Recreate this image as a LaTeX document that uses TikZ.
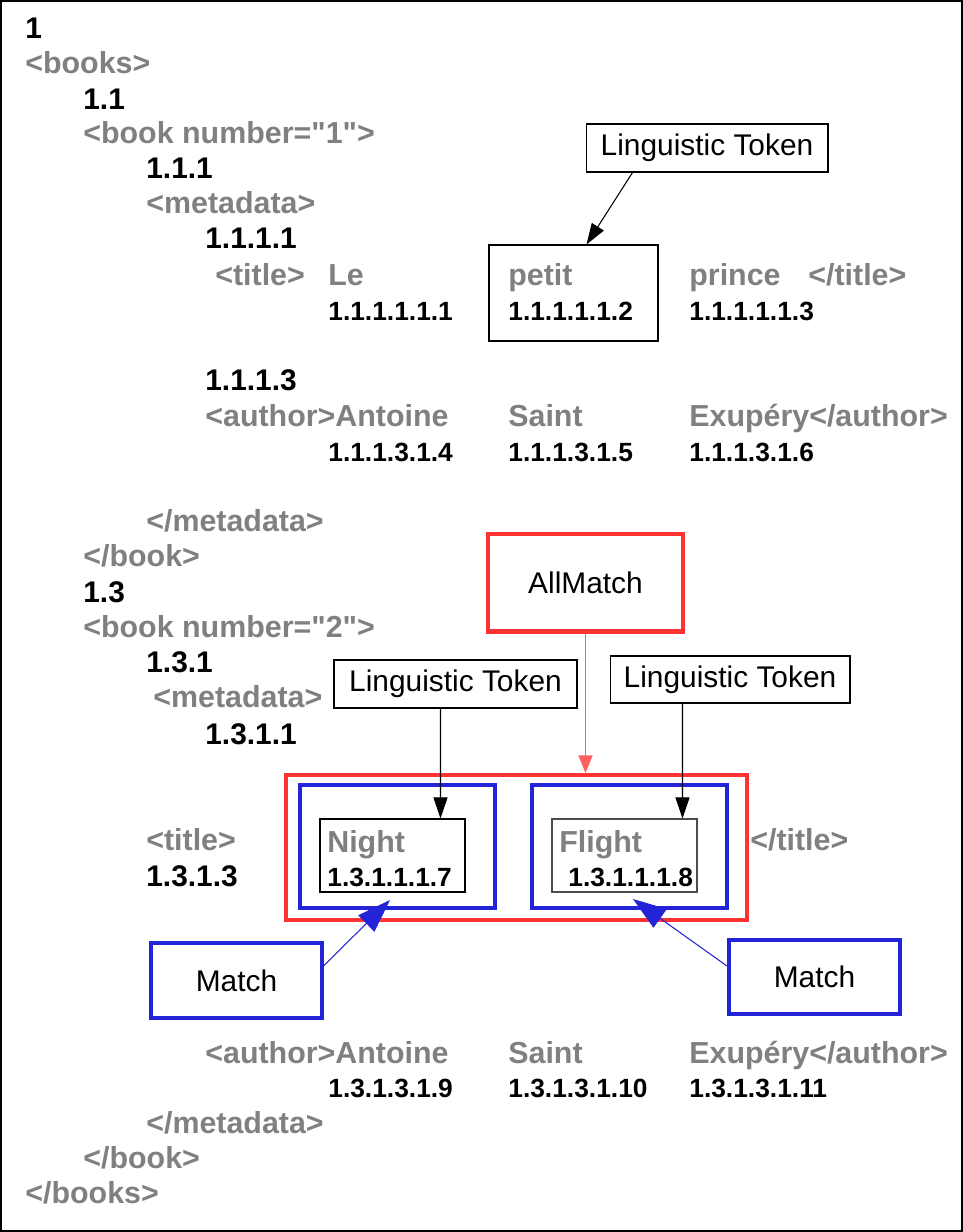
\documentclass[tikz,border=0pt]{standalone}
\usepackage{fontspec}
\setmainfont{Liberation Sans}
\usetikzlibrary{positioning, calc, arrows.meta}

\definecolor{taggray}{HTML}{808080}
\definecolor{matchred}{HTML}{FF3333}
\definecolor{linkred}{HTML}{FF6060}
\definecolor{matchblue}{HTML}{2323D8}

\tikzset{
    xmltag/.style={anchor=base west, inner sep=0pt, text=taggray,
        font=\fontsize{17.3}{20}\selectfont\bfseries},
    nodeid/.style={anchor=base west, inner sep=0pt, text=black,
        font=\fontsize{17}{20}\selectfont\bfseries},
    tokid/.style={anchor=base west, inner sep=0pt, text=black,
        font=\fontsize{15}{18}\selectfont\bfseries},
    labelbox/.style={draw, line width=0.6pt, inner sep=0pt,
        font=\fontsize{17}{20}\selectfont},
    tokbox/.style={draw, line width=0.6pt, inner sep=0pt},
    allbox/.style={draw=matchred, line width=2.3pt, inner sep=0pt},
    matchbox/.style={draw=matchblue, line width=2.3pt, inner sep=0pt,
        font=\fontsize{17}{20}\selectfont},
    tokarrow/.style={-{Triangle[length=12pt, width=8pt]}, line width=0.6pt},
    allarrow/.style={-{Triangle[length=10pt, width=8pt]}, draw=linkred,
        fill=matchred, line width=0.7pt},
    matcharrow/.style={-{Triangle[length=19pt, width=13pt]}, draw=matchblue,
        line width=0.6pt},
}

\begin{document}
\begin{tikzpicture}[x=0.02cm, y=-0.02cm]

    \useasboundingbox (0,0) rectangle (963,1232);
    \draw[line width=0.6pt] (1,1) rectangle (962,1231);

    % ;- first book ;-
    \node[nodeid] (n1) at (25,38) {1};
    \node[xmltag] (books) at (25,73) {<books>};
    \node[nodeid] (n11) at (83,109) {1.1};
    \node[xmltag] (book1) at (83,143) {<book number=\textquotedbl 1\textquotedbl>};
    \node[nodeid] (n111) at (146,178) {1.1.1};
    \node[xmltag] (meta1) at (146,213) {<metadata>};
    \node[nodeid] (n1111) at (205,248) {1.1.1.1};
    \node[xmltag] (title1) at (215,285) {<title>};
    \node[xmltag] (le) at (328,285) {Le};
    \node[tokid] (id1) at (328,320) {1.1.1.1.1.1};
    \node[xmltag] (petitw) at (508,285) {petit};
    \node[tokid] (id2) at (508,320) {1.1.1.1.1.2};
    \node[xmltag] (prince) at (689,285) {prince};
    \node[xmltag] (etitle1) at (808,285) {</title>};
    \node[tokid] (id3) at (689,320) {1.1.1.1.1.3};
    % token box round "petit"
    \node[tokbox, minimum width=3.38cm, minimum height=1.92cm] (petit) at (573.5,293) {};
    \node[labelbox, minimum width=4.84cm, minimum height=0.96cm] (lt1) at (707,148) {Linguistic Token};
    \draw[tokarrow] ($(lt1.south west)+(47,0)$) -- ($(petit.north west)+(98,0)$);

    \node[nodeid] (n1113) at (205,390) {1.1.1.3};
    \node[xmltag] (author1) at (205,426) {<author>Antoine};
    \node[xmltag] (saint1) at (508,426) {Saint};
    \node[xmltag] (exup1) at (689,426) {Exupéry</author>};
    \node[tokid] (id4) at (328,461) {1.1.1.3.1.4};
    \node[tokid] (id5) at (508,461) {1.1.1.3.1.5};
    \node[tokid] (id6) at (689,461) {1.1.1.3.1.6};
    \node[xmltag] (emeta1) at (146,531) {</metadata>};
    \node[xmltag] (ebook1) at (83,566) {</book>};

    % ;- second book ;-
    \node[nodeid] (n13) at (83,602) {1.3};
    \node[xmltag] (book2) at (83,637) {<book number=\textquotedbl 2\textquotedbl>};
    \node[nodeid] (n131) at (146,672) {1.3.1};
    \node[xmltag] (meta2) at (153,707) {<metadata>};
    \node[nodeid] (n1311) at (205,744) {1.3.1.1};
    \node[xmltag] (title2) at (146,850) {<title>};
    \node[nodeid] (n1313) at (146,886) {1.3.1.3};
    \node[xmltag] (etitle2) at (750,850) {</title>};

    % match boxes round "Night Flight"
    \node[allbox, minimum width=9.22cm, minimum height=2.9cm] (allbox) at (516.5,847.5) {};
    \node[matchbox, minimum width=3.9cm, minimum height=2.46cm] (nightmatch) at (397.5,846.5) {};
    \node[matchbox, minimum width=3.9cm, minimum height=2.46cm] (flightmatch) at (629.5,846.5) {};
    \node[tokbox, minimum width=2.9cm, minimum height=1.46cm] (nighttok) at (392.5,855.5) {};
    \node[tokbox, draw=black!70, minimum width=2.9cm, minimum height=1.46cm] (flighttok) at (624.5,855.5) {};
    \node[xmltag] (night) at (327,852) {Night};
    \node[tokid] (id7) at (327,886) {1.3.1.1.1.7};
    \node[xmltag] (flight) at (559,852) {Flight};
    \node[tokid] (id8) at (568,886) {1.3.1.1.1.8};

    \node[allbox, minimum width=3.9cm, minimum height=1.96cm,
        font=\fontsize{17}{20}\selectfont] (allmatch) at (585.5,582.5) {AllMatch};
    \node[labelbox, minimum width=4.86cm, minimum height=0.96cm] (lt2) at (455.5,684) {Linguistic Token};
    \node[labelbox, minimum width=4.8cm, minimum height=0.94cm] (lt3) at (730,679.5) {Linguistic Token};
    \draw[allarrow] (allmatch.south) -- (allmatch.south |- allbox.north);
    \draw[tokarrow] ($(lt2.south west)+(107,0)$) -- ($(nighttok.north west)+(121,0)$);
    \draw[tokarrow] ($(lt3.south west)+(73,0)$) -- ($(flighttok.north west)+(131,0)$);

    \node[matchbox, minimum width=3.42cm, minimum height=1.5cm] (match1) at (236.5,980.5) {Match};
    \node[matchbox, minimum width=3.42cm, minimum height=1.48cm] (match2) at (814.5,977) {Match};
    \draw[matcharrow] ($(match1.east)+(0,-15)$) -- ($(nightmatch.south west)+(92,-10)$);
    \draw[matcharrow] ($(match2.west)+(0,-11)$) -- ($(flightmatch.south west)+(103,-11)$);

    \node[xmltag] (author2) at (205,1063) {<author>Antoine};
    \node[xmltag] (saint2) at (508,1063) {Saint};
    \node[xmltag] (exup2) at (689,1063) {Exupéry</author>};
    \node[tokid] (id9) at (328,1097) {1.3.1.3.1.9};
    \node[tokid] (id10) at (508,1097) {1.3.1.3.1.10};
    \node[tokid] (id11) at (689,1097) {1.3.1.3.1.11};
    \node[xmltag] (emeta2) at (146,1133) {</metadata>};
    \node[xmltag] (ebook2) at (83,1168) {</book>};
    \node[xmltag] (ebooks) at (25,1203) {</books>};

\end{tikzpicture}
\end{document}
